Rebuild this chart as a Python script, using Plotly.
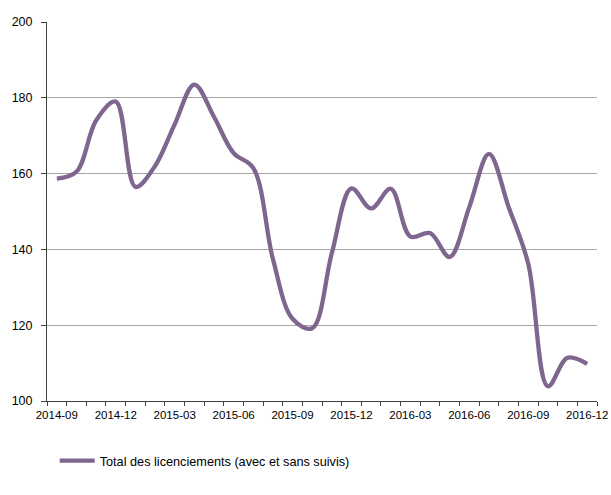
import plotly.graph_objects as go

months = ["2014-09", "2014-10", "2014-11", "2014-12", "2015-01", "2015-02", "2015-03",
          "2015-04", "2015-05", "2015-06", "2015-07", "2015-08", "2015-09", "2015-10",
          "2015-11", "2015-12", "2016-01", "2016-02", "2016-03", "2016-04", "2016-05",
          "2016-06", "2016-07", "2016-08", "2016-09", "2016-10", "2016-11", "2016-12"]
licenciements = [158.7, 160.5, 174.0, 179.0, 156.5, 162.0, 173.0,
                 183.5, 175.0, 165.4, 161.5, 137.5, 121.7, 119.2,
                 139.0, 156.1, 150.8, 156.0, 143.4, 144.3, 138.0,
                 151.2, 165.2, 151.2, 136.2, 103.9, 111.4, 109.8]
series_name = "Total des licenciements (avec et sans suivis)"
y_ticks = [100, 120, 140, 160, 180, 200]

idx = list(range(len(months)))
label_idx = idx[::3]
label_txt = months[::3]

fig = go.Figure()
fig.add_trace(go.Scatter(
    x=idx, y=licenciements, mode="lines", name=series_name,
    line=dict(color="#7f6690", width=4.3, shape="spline", smoothing=1.0),
))

family = "Liberation Sans, Arial, sans-serif"
xfont = dict(family=family, size=11.5, color="#000000")
yfont = dict(family=family, size=12.5, color="#000000")

fig.update_layout(
    width=611, height=495,
    margin=dict(l=47, r=14, t=22, b=94, autoexpand=False),
    paper_bgcolor="white", plot_bgcolor="white",
    font=xfont,
    showlegend=True,
    legend=dict(orientation="h", x=0.014, xanchor="left", y=-0.158, yanchor="middle",
                font=dict(family=family, size=12.7, color="#000000"),
                itemwidth=35),
    xaxis=dict(
        range=[-0.5, len(months) - 0.5], tickmode="array", tickvals=label_idx, ticktext=label_txt,
        ticks="", showgrid=False, zeroline=False,
        showline=True, linecolor="#404040", linewidth=1,
        minor=dict(tick0=-0.5, dtick=1, ticks="outside", ticklen=4, tickcolor="#404040", showgrid=False),
        tickfont=xfont, ticklabelstandoff=3,
    ),
    xaxis2=dict(
        overlaying="x", matches="x", side="bottom", anchor="y",
        showticklabels=False, ticks="", showgrid=False, zeroline=False, showline=False,
        minor=dict(tick0=-0.5, dtick=1, ticks="inside", ticklen=4, tickcolor="#404040", showgrid=False),
    ),
    yaxis=dict(
        range=[100, 200], tickmode="array", tickvals=y_ticks,
        ticks="outside", ticklen=5, tickcolor="#404040",
        showgrid=True, gridcolor="#a6a6a6", gridwidth=1, zeroline=False,
        showline=True, linecolor="#404040", linewidth=1,
        tickfont=yfont, ticklabelstandoff=6,
    ),
)

fig.write_html("out.html",
               config={"displayModeBar": False},
               post_script="document.body.style.margin='0';document.body.style.overflow='hidden';")
